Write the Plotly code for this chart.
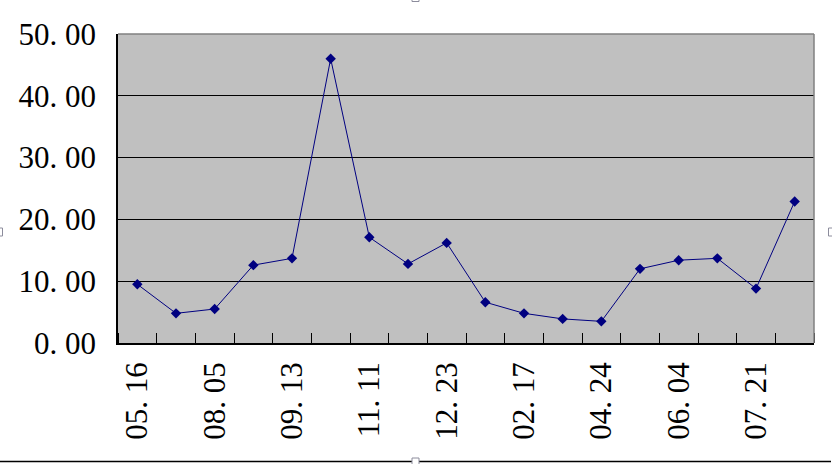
import plotly.graph_objects as go

# Data
point_index = list(range(18))
values = [9.5, 4.8, 5.5, 12.6, 13.7, 46.0, 17.1, 12.8, 16.2, 6.6, 4.8, 3.9, 3.5, 12.0, 13.4, 13.7, 8.8, 22.9]
label_positions = [0, 2, 4, 6, 8, 10, 12, 14, 16]
tick_labels = ["05. 16", "08. 05", "09. 13", "11. 11", "12. 23", "02. 17", "04. 24", "06. 04", "07. 21"]
y_ticks = [0, 10, 20, 30, 40, 50]
y_tick_labels = ["0. 00", "10. 00", "20. 00", "30. 00", "40. 00", "50. 00"]

font_family = "Liberation Serif, Times New Roman, serif"

PL, PR, PT, PB = 118, 814, 34, 343  # plot area in pixels
PW, PH = PR - PL, PB - PT


def px(x):
    return (x - PL) / PW


def py(y):
    return (PB - y) / PH


fig = go.Figure()
fig.add_trace(go.Scatter(
    x=point_index, y=values, mode="lines+markers",
    line=dict(color="#000080", width=1),
    marker=dict(symbol="diamond", size=8, color="#000080"),
    showlegend=False, hoverinfo="skip",
))

handle = dict(type="rect", xref="paper", yref="paper",
              line=dict(color="#8c8c9c", width=1), fillcolor="white")

fig.update_layout(
    width=832, height=464,
    margin=dict(l=PL, r=832 - PR, t=PT, b=464 - PB),
    paper_bgcolor="white",
    plot_bgcolor="#C0C0C0",
    font=dict(family=font_family, color="black"),
    xaxis=dict(
        range=[-0.5, 17.5],
        tickmode="array", tickvals=label_positions, ticktext=tick_labels,
        tickangle=-90, ticks="", showgrid=False, zeroline=False,
        tickfont=dict(size=31, family=font_family),
        showline=True, linecolor="black", linewidth=1.5, mirror=False,
        minor=dict(tickmode="linear", tick0=-0.5, dtick=1, ticks="inside",
                   ticklen=10, tickcolor="black", tickwidth=1, showgrid=False),
        ticklabelstandoff=5,
        automargin=False,
        fixedrange=True,
    ),
    yaxis=dict(
        range=[0, 50],
        tickmode="array", tickvals=y_ticks, ticktext=y_tick_labels,
        ticks="inside", ticklen=10, tickcolor="black",
        showgrid=True, gridcolor="black", gridwidth=1,
        zeroline=False,
        tickfont=dict(size=31, family=font_family),
        showline=True, linecolor="black", linewidth=1.5,
        ticklabelstandoff=14,
        automargin=False,
        fixedrange=True,
    ),
    shapes=[
        # gray top/right border of plot area
        dict(type="line", xref="paper", yref="paper", x0=0, x1=1, y0=1, y1=1,
             line=dict(color="#808080", width=1.5)),
        dict(type="line", xref="paper", yref="paper", x0=1, x1=1, y0=0, y1=1,
             line=dict(color="#808080", width=1.5)),
        # bottom frame line of the chart object
        dict(type="line", xref="paper", yref="paper", x0=px(0), x1=px(831),
             y0=py(461.5), y1=py(461.5), line=dict(color="black", width=1.5)),
        # selection handles of the chart frame
        dict(handle, x0=px(-1), x1=px(2.5), y0=py(228), y1=py(236)),
        dict(handle, x0=px(828.5), x1=px(833), y0=py(228), y1=py(236)),
        dict(handle, x0=px(412), x1=px(419), y0=py(-1), y1=py(1.5)),
        dict(handle, x0=px(412), x1=px(419), y0=py(458), y1=py(465)),
    ],
)

fig.write_html("out.html", config={"displayModeBar": False},
               post_script="document.body.style.margin='0';")
